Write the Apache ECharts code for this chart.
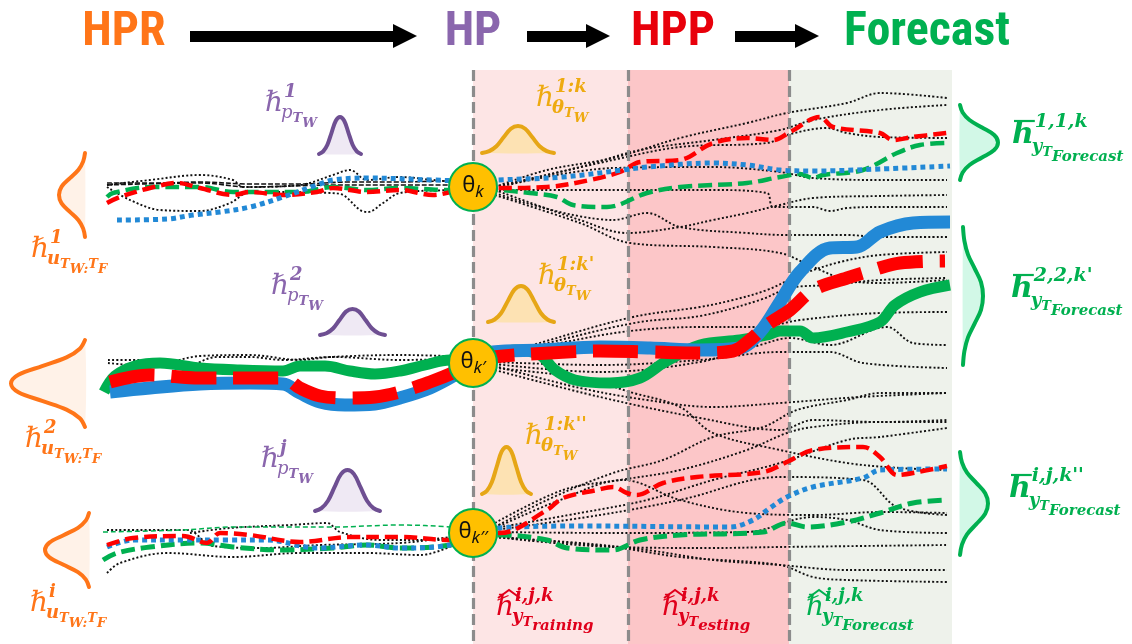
<!DOCTYPE html>
<html>
<head>
<meta charset="utf-8">
<script src="https://cdn.jsdelivr.net/npm/echarts@6/dist/echarts.min.js"></script>
<style>
  html, body { margin: 0; padding: 0; background: #fff; }
  #c { width: 1132px; height: 644px; }
</style>
</head>
<body>
<div id="c"></div>
<script>
// ---------- stages ----------
const stageNames = ['HPR', 'HP', 'HPP', 'Forecast'];
const stageCenters = [124, 473, 673, 927];
const stageArrows = [[190, 405], [527, 598], [735, 807]];

// ---------- phases (training / testing / forecast) ----------
const phaseBands = [[473, 628, 0], [628, 789, 1], [789, 952, 2]];
const phaseEdges = [473, 628, 789];

// ---------- hyper-parameter nodes ----------
const thetaNodes = [[473, 187], [473, 363], [473, 533]];
const thetaSubs = ['k', 'k\u2032', 'k\u2032\u2032'];

// ---------- distributions: x0, y0, x1, y1, orientation (0 up, 1 opens right, 2 opens left), palette ----------
const bellProfile = [[0, 0], [0.1, 0.07], [0.2, 0.25], [0.3, 0.58], [0.4, 0.9], [0.5, 1], [0.6, 0.9], [0.7, 0.58], [0.8, 0.25], [0.9, 0.07], [1, 0]];
const bells = [
  [319, 117, 361, 154, 0, 0], [320, 309, 385, 335, 0, 0], [315, 470, 380, 511, 0, 0],
  [482, 126, 554, 153, 0, 1], [488, 286, 554, 322, 0, 1], [482, 447, 531, 494, 0, 1],
  [59, 153, 85, 237, 1, 2], [11, 340, 85, 427, 1, 2], [45, 513, 89, 587, 1, 2],
  [960, 105, 998, 180, 2, 3], [963, 227, 983, 365, 2, 3], [960, 452, 988, 555, 2, 3]
];

// ---------- band 1 ----------
const red1 = [[107,203],[120,197],[150,188],[177,183],[200,188],[233,195],[250,192],[283,195],[317,192],[333,188],[367,192],[400,190],[433,195],[455,191],[473,187],[500,188],[547,187],[590,180],[620,172],[640,162],[680,160],[713,143],[747,138],[773,140],[790,132],[820,117],[833,127],[880,133],[893,140],[913,137],[947,133]];
const green1 = [[107,197],[113,193],[150,187],[200,187],[233,192],[267,192],[300,192],[333,187],[367,190],[400,188],[447,190],[473,188],[500,190],[530,193],[557,197],[573,205],[607,207],[647,193],[680,187],[747,183],[780,177],[800,174],[813,178],[823,175],[863,170],[897,153],[920,145],[950,143]];
const blue1 = [[117,220],[167,219],[193,215],[220,212],[250,207],[283,197],[317,185],[333,180],[367,178],[433,180],[473,181],[497,180],[563,177],[623,170],[647,167],[713,163],[747,165],[780,170],[813,171],[880,169],[950,166]];
const dashed1 = [
  [[107,183],[160,183],[200,182],[250,184],[300,184],[350,182],[400,182],[447,181],[473,183]],
  [[107,185],[200,183],[250,187],[333,185],[400,185],[447,185],[473,185]]
];
const dotted1 = [
  [[107,185],[150,180],[200,175],[233,180],[243,187],[300,185],[333,175],[350,170],[367,180],[400,177],[433,180],[473,184]],
  [[107,187],[130,200],[160,210],[200,211],[230,203],[250,192],[280,192],[330,193],[343,195],[360,210],[368,212],[383,203],[400,193],[447,190],[473,188]],
  [[495,187],[547,170],[613,158],[680,138],[747,123],[787,113],[847,103],[880,93],[947,98]],
  [[495,187],[580,167],[640,150],[713,140],[780,130],[813,120],[880,110],[947,105]],
  [[495,187],[613,160],[680,147],[767,143],[787,135],[827,128],[847,133],[880,137],[947,138]],
  [[495,188],[613,168],[713,167],[780,172],[813,178],[880,180],[947,180]],
  [[495,190],[613,190],[713,190],[767,193],[773,207],[813,207],[830,211],[847,208],[880,207],[947,207]],
  [[495,190],[580,220],[627,233],[680,227],[713,220],[747,213],[780,205],[813,198],[880,196],[947,195]],
  [[495,193],[613,220],[647,213],[680,227],[747,233],[787,235],[847,235],[880,237],[947,237]],
  [[495,195],[580,223],[630,243],[713,247],[780,253],[813,267],[847,280],[880,283],[947,280]]
];

// ---------- band 2 ----------
const blue2 = [[110,392],[150,388],[200,384],[250,383],[283,384],[300,393],[320,402],[345,405],[375,404],[400,398],[430,388],[455,375],[473,363],[493,352],[540,350],[600,347],[650,348],[700,350],[740,348],[760,332],[780,302],[800,272],[830,248],[857,247],[880,232],[913,223],[950,222]];
const red2 = [[110,382],[150,375],[200,378],[250,378],[283,378],[300,388],[320,396],[345,398],[375,397],[400,392],[430,382],[455,372],[473,363],[493,357],[550,353],[600,351],[650,352],[700,353],[733,351],[750,340],[767,325],[790,310],[813,290],[847,278],[873,270],[900,263],[945,261]];
const green2 = [[104,392],[115,376],[135,366],[160,363],[200,368],[240,370],[283,371],[300,366],[325,366],[350,371],[375,374],[400,371],[425,365],[450,360],[473,360],[493,356],[515,350],[540,355],[555,370],[575,380],[610,383],[640,378],[665,362],[700,345],[740,340],[767,335],[780,331],[800,331],[813,338],[847,332],[880,322],[895,305],[920,292],[950,285]];
const dotted2 = [
  [[108,360],[150,360],[183,367],[217,357],[250,357],[283,360],[333,357],[400,360],[473,358]],
  [[108,363],[150,366],[200,356],[250,355],[300,360],[330,357],[400,355],[473,357]],
  [[495,357],[543,342],[633,317],[700,307],[733,300],[767,290],[800,275],[840,262],[880,255],[947,252]],
  [[495,357],[560,343],[630,331],[700,327],[760,327],[800,320],[880,313],[947,312]],
  [[495,358],[560,340],[640,322],[700,316],[760,300],[790,288],[830,285],[880,280],[947,278]],
  [[495,362],[600,365],[700,360],[780,352],[830,352],[863,363],[947,368]],
  [[495,364],[600,372],[700,362],[760,345],[790,338],[830,345],[887,327],[913,343],[947,345]],
  [[495,366],[580,388],[647,400],[713,407],[780,403],[860,397],[947,393]],
  [[495,368],[560,375],[597,382],[630,392],[680,407],[713,433],[780,450],[847,463],[900,468],[947,470]],
  [[495,370],[600,397],[700,418],[780,430],[813,420],[880,422],[947,420]]
];

// ---------- band 3 ----------
const red3 = [[107,545],[133,538],[183,536],[207,543],[220,533],[250,535],[300,542],[350,537],[400,537],[450,540],[473,533],[500,533],[547,510],[563,498],[597,490],[613,487],[627,493],[637,495],[663,483],[697,477],[763,472],[787,462],[813,450],[863,447],[880,457],[897,475],[913,473],[947,466]];
const blue3 = [[107,547],[133,540],[183,540],[227,540],[267,540],[317,548],[367,545],[400,548],[450,545],[473,533],[500,528],[580,526],[730,527],[753,520],[770,508],[787,497],[813,487],[863,478],[880,470],[947,469]];
const green3 = [[103,560],[117,553],[150,547],[200,543],[233,547],[283,550],[333,548],[367,545],[400,548],[450,545],[473,535],[500,535],[547,540],[567,548],[613,550],[640,540],[680,535],[763,532],[787,523],[807,527],[847,522],[880,513],[913,503],[947,500]];
const greenThin3 = [[103,532],[183,530],[233,527],[333,527],[400,525],[450,527],[473,530]];
const dotted3 = [
  [[107,530],[187,530],[213,546],[260,548],[320,545],[400,543],[450,537],[473,533]],
  [[107,573],[120,563],[167,553],[233,557],[300,553],[367,553],[420,555],[473,535]],
  [[190,533],[230,528],[290,525],[327,523],[340,532],[380,540],[440,540],[473,533]],
  [[495,527],[547,500],[613,473],[663,460],[713,437],[763,427],[797,410],[847,400],[880,393],[947,393]],
  [[495,523],[563,490],[620,480],[680,470],[747,450],[787,433],[813,427],[880,422],[947,422]],
  [[495,528],[580,513],[647,500],[713,480],[780,463],[847,440],[880,437],[947,428]],
  [[495,528],[560,500],[623,480],[680,500],[747,513],[813,515],[880,512],[947,513]],
  [[495,530],[600,515],[680,500],[780,477],[863,480],[897,507],[947,515]],
  [[495,532],[613,533],[747,532],[813,517],[847,520],[880,530],[947,533]],
  [[495,537],[613,547],[713,548],[780,547],[947,545]],
  [[495,537],[580,543],[647,550],[713,560],[780,565],[847,570],[947,570]],
  [[495,537],[613,547],[680,557],[780,565],[813,577],[847,580],[947,582]]
];

// ---------- math labels ----------
const hpLabels = [
  { main: '\u210F', sup: '1', sub: 'p', chain: [['T', 2], ['W', 3]] },
  { main: '\u210F', sup: '2', sub: 'p', chain: [['T', 2], ['W', 3]] },
  { main: '\u210F', sup: 'j', sub: 'p', chain: [['T', 2], ['W', 3]] }
];
const thetaLabels = [
  { main: '\u210F', sup: '1:k', sub: '\u03B8', chain: [['T', 2], ['W', 3]] },
  { main: '\u210F', sup: "1:k'", sub: '\u03B8', chain: [['T', 2], ['W', 3]] },
  { main: '\u210F', sup: "1:k''", sub: '\u03B8', chain: [['T', 2], ['W', 3]] }
];
const hprLabels = [
  { main: '\u210F', sup: '1', sub: 'u', chain: [['T', 2], ['W:', 3], ['T', 2], ['F', 3]] },
  { main: '\u210F', sup: '2', sub: 'u', chain: [['T', 2], ['W:', 3], ['T', 2], ['F', 3]] },
  { main: '\u210F', sup: 'i', sub: 'u', chain: [['T', 2], ['W:', 3], ['T', 2], ['F', 3]] }
];
const phaseLabels = [
  { main: '\u210F', accent: 'hat', sup: 'i,j,k', sub: 'y', chain: [['T', 2], ['raining', 3]] },
  { main: '\u210F', accent: 'hat', sup: 'i,j,k', sub: 'y', chain: [['T', 2], ['esting', 3]] },
  { main: '\u210F', accent: 'hat', sup: 'i,j,k', sub: 'y', chain: [['T', 2], ['Forecast', 3]] }
];
const forecastLabels = [
  { main: 'h', accent: 'bar', bold: true, sup: '1,1,k', sub: 'y', chain: [['T', 2], ['Forecast', 3]] },
  { main: 'h', accent: 'bar', bold: true, sup: "2,2,k'", sub: 'y', chain: [['T', 2], ['Forecast', 3]] },
  { main: 'h', accent: 'bar', bold: true, sup: "i,j,k''", sub: 'y', chain: [['T', 2], ['Forecast', 3]] }
];

// ---------- styling ----------
const W = 1132, H = 644, shadeTop = 70, arrowY = 36;
const C = {
  red: '#ff0000', green: '#00b050', blue: '#2289d6', black: '#111111',
  orange: '#ff7518', purple: '#8a66ad', gold: '#eeaa10', hpp: '#e8000b', redText: '#e0001b'
};
const phaseFills = ['#fde5e5', '#fcc6c8', '#eef2eb'];
const bellPalette = [
  { line: '#6e4f92', fill: '#efe9f4' },
  { line: '#e6a616', fill: '#fde2b3' },
  { line: '#ff7518', fill: '#fff2e8' },
  { line: '#00b050', fill: '#d2f8e7' }
];
const titleColors = [C.orange, C.purple, C.hpp, C.green];

const series = [];

// phase shading
series.push({
  type: 'custom', coordinateSystem: 'cartesian2d', silent: true, z: 0,
  data: phaseBands,
  renderItem(params, api) {
    const a = api.coord([api.value(0), shadeTop]);
    const b = api.coord([api.value(1), H]);
    return { type: 'rect', shape: { x: a[0], y: a[1], width: b[0] - a[0], height: b[1] - a[1] },
             style: { fill: phaseFills[api.value(2)] } };
  }
});

function addLine(points, color, width, dash, z, smooth) {
  series.push({
    type: 'line', data: points, showSymbol: false, symbol: 'none', silent: true, z: z,
    smooth: smooth === undefined ? 0.35 : smooth,
    lineStyle: { color: color, width: width, type: dash, cap: 'butt', join: 'round' }
  });
}

const dotStyle = [2, 2.2];
[dotted1, dotted2, dotted3].forEach(group => group.forEach(l => addLine(l, C.black, 1.9, dotStyle, 2)));
dashed1.forEach(l => addLine(l, C.black, 1.6, [5, 2], 2));

// phase boundaries
series.push({
  type: 'lines', coordinateSystem: 'cartesian2d', silent: true, z: 3,
  data: phaseEdges.map(x => ({ coords: [[x, shadeTop], [x, H]] })),
  lineStyle: { color: '#8c8c8c', width: 3.2, type: [11, 5], opacity: 1 }
});

// band 1
addLine(green1, C.green, 4.5, [14, 6], 4);
addLine(red1, C.red, 4.5, [13, 6], 4);
addLine(blue1, C.blue, 5, [5, 4], 4);
// band 2
addLine(green2, C.green, 11, 'solid', 5);
addLine(blue2, C.blue, 13, 'solid', 5);
addLine(red2, C.red, 13, [45, 17], 5);
// band 3
addLine(greenThin3, C.green, 1.5, [5, 3], 4);
addLine(green3, C.green, 5, [14, 6], 4);
addLine(blue3, C.blue, 5, [5, 4], 4);
addLine(red3, C.red, 4.5, [13, 6], 4);

// distributions
series.push({
  type: 'custom', coordinateSystem: 'cartesian2d', silent: true, z: 6,
  data: bells,
  renderItem(params, api) {
    const x0 = api.value(0), y0 = api.value(1), x1 = api.value(2), y1 = api.value(3);
    const dir = api.value(4), pal = bellPalette[api.value(5)];
    const pts = bellProfile.map(([t, h]) => {
      let p;
      if (dir === 0) p = [x0 + t * (x1 - x0), y1 - h * (y1 - y0)];
      else if (dir === 1) p = [x1 - h * (x1 - x0), y0 + t * (y1 - y0)];
      else p = [x0 + h * (x1 - x0), y0 + t * (y1 - y0)];
      return api.coord(p);
    });
    return {
      type: 'group', children: [
        { type: 'polygon', shape: { points: pts, smooth: 0.35 }, style: { fill: pal.fill } },
        { type: 'polyline', shape: { points: pts, smooth: 0.35 }, style: { stroke: pal.line, lineWidth: 4, fill: null, lineCap: 'round' } }
      ]
    };
  }
});

// arrows between stages
series.push({
  type: 'lines', coordinateSystem: 'cartesian2d', silent: true, z: 7,
  data: stageArrows.map(([a, b]) => ({ coords: [[a, arrowY], [b, arrowY]] })),
  symbol: ['none', 'triangle'], symbolSize: 24,
  lineStyle: { color: '#000', width: 11, opacity: 1 }
});

// hyper-parameter nodes
series.push({
  type: 'scatter', silent: true, z: 10,
  data: thetaNodes.map((p, i) => ({ value: p, name: thetaSubs[i] })),
  symbol: 'circle', symbolSize: 48,
  itemStyle: { color: '#ffc000', borderColor: '#00b050', borderWidth: 2, opacity: 1 },
  label: {
    show: true, position: 'inside',
    formatter: p => '{t|\u03B8}{s|' + p.name + '}',
    rich: {
      t: { fontSize: 22, color: '#111', fontFamily: "'Noto Sans', sans-serif", padding: [0, 0, 2, 0] },
      s: { fontSize: 17, color: '#111', fontStyle: 'italic', fontFamily: "'Noto Sans', sans-serif", padding: [10, 0, 0, 0] }
    }
  }
});

// ---------- text ----------
const MATH = "'DejaVu Serif', serif";
const mctx = document.createElement('canvas').getContext('2d');
function fontStr(size, weight, style) { return style + ' ' + weight + ' ' + size + 'px ' + MATH; }
function tw(t, size, weight, style) { mctx.font = fontStr(size, weight, style); return mctx.measureText(t).width; }
function txt(t, x, y, size, weight, style, color) {
  return { type: 'text', x: x, y: y, silent: true, z: 20,
    style: { text: t, fill: color, font: fontStr(size, weight, style),
             textVerticalAlign: 'top', verticalAlign: 'top', textAlign: 'left', align: 'left' } };
}
function mathLabel(x, y, color, spec, opt) {
  const o = Object.assign({ main: 28, sup: 18, sub: 18, l2: 13, l3: 13, supDy: -7, subDy: 14, l2Dy: 22, l3Dy: 27, subW: 'bold' }, opt || {});
  const out = [];
  const mw = spec.bold ? 'bold' : 'normal';
  out.push(txt(spec.main, x, y, o.main, mw, 'italic', color));
  const w = tw(spec.main, o.main, mw, 'italic');
  out.push(txt(spec.sup, x + w + 1, y + o.supDy, o.sup, 'bold', 'italic', color));
  let cx = x + w - 2;
  out.push(txt(spec.sub, cx, y + o.subDy, o.sub, o.subW, 'italic', color));
  cx += tw(spec.sub, o.sub, o.subW, 'italic');
  spec.chain.forEach(([t, lvl]) => {
    const size = lvl === 2 ? o.l2 : o.l3;
    out.push(txt(t, cx, y + (lvl === 2 ? o.l2Dy : o.l3Dy), size, 'bold', 'italic', color));
    cx += tw(t, size, 'bold', 'italic');
  });
  if (spec.accent === 'hat') {
    out.push({ type: 'polyline', silent: true, z: 20,
      shape: { points: [[x + 2, y + 4], [x + w / 2 + 4, y - 4], [x + w + 6, y + 4]] },
      style: { stroke: color, lineWidth: 2, fill: null } });
  }
  if (spec.accent === 'bar') {
    out.push({ type: 'line', silent: true, z: 20,
      shape: { x1: x + 2, y1: y + 1, x2: x + w + 1, y2: y + 1 },
      style: { stroke: color, lineWidth: 2.2 } });
  }
  return out;
}

let graphics = [];
stageNames.forEach((n, i) => {
  graphics.push({ type: 'text', x: stageCenters[i], y: 33, silent: true, z: 20,
    style: { text: n, fill: titleColors[i], font: "bold 48px 'Liberation Sans Narrow', 'Roboto Condensed', Roboto, sans-serif",
             textAlign: 'center', align: 'center', textVerticalAlign: 'middle', verticalAlign: 'middle' } });
});

const hpPos = [[265, 90], [271, 273], [261, 446]];
const thetaPos = [[536, 85], [538, 263], [525, 423]];
const hprPos = [[31, 236], [25, 426], [30, 590]];
const phasePos = [[496, 594], [662, 594], [806, 594]];
const forecastPos = [[1012, 120], [1011, 274], [1009, 474]];

hpLabels.forEach((s, i) => graphics = graphics.concat(mathLabel(hpPos[i][0], hpPos[i][1], C.purple, s, { subW: 'normal' })));
thetaLabels.forEach((s, i) => graphics = graphics.concat(mathLabel(thetaPos[i][0], thetaPos[i][1], C.gold, s)));
hprLabels.forEach((s, i) => graphics = graphics.concat(mathLabel(hprPos[i][0], hprPos[i][1], C.orange, s)));
phaseLabels.forEach((s, i) => graphics = graphics.concat(mathLabel(phasePos[i][0], phasePos[i][1], i < 2 ? C.redText : C.green, s, { l3: 15, l3Dy: 25 })));
forecastLabels.forEach((s, i) => graphics = graphics.concat(mathLabel(forecastPos[i][0], forecastPos[i][1], C.green, s, { main: 30, sup: 19, subDy: 18, l2Dy: 26, l3Dy: 30, l3: 15 })));

const chart = echarts.init(document.getElementById('c'), null, { renderer: 'canvas', width: W, height: H });
chart.setOption({
  animation: false,
  backgroundColor: '#fff',
  grid: { left: 0, right: 0, top: 0, bottom: 0 },
  xAxis: { type: 'value', min: 0, max: W, show: false },
  yAxis: { type: 'value', min: 0, max: H, inverse: true, show: false },
  series: series,
  graphic: graphics
});
</script>
</body>
</html>
